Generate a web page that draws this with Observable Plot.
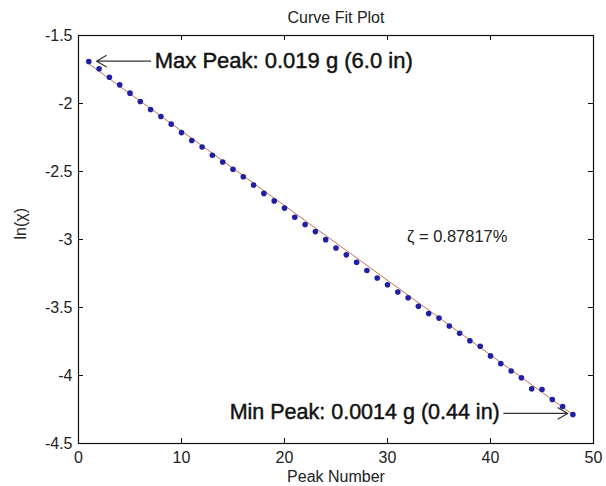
<!DOCTYPE html>
<html><head><meta charset="utf-8">
<script src="https://cdn.jsdelivr.net/npm/d3@7"></script>
<script src="https://cdn.jsdelivr.net/npm/@observablehq/plot@0.6"></script>
<style>
body{margin:0;background:#fff}
svg{font-family:"Liberation Sans",Arial,sans-serif}
</style>
</head><body><div id="chart"></div>
<script>
const peakNumber = [1,2,3,4,5,6,7,8,9,10,11,12,13,14,15,16,17,18,19,20,21,22,23,24,25,26,27,28,29,30,31,32,33,34,35,36,37,38,39,40,41,42,43,44,45,46,47,48];
const lnX = [-1.691,-1.745,-1.807,-1.863,-1.924,-1.985,-2.044,-2.096,-2.152,-2.214,-2.272,-2.320,-2.380,-2.430,-2.484,-2.539,-2.600,-2.661,-2.716,-2.769,-2.836,-2.890,-2.942,-3.001,-3.062,-3.113,-3.167,-3.228,-3.283,-3.333,-3.386,-3.428,-3.491,-3.545,-3.578,-3.636,-3.690,-3.745,-3.785,-3.856,-3.913,-3.967,-4.017,-4.098,-4.103,-4.176,-4.228,-4.287];
const fitX = [1, 48];
const fitY = [-1.708, -4.288];
const xTicks = [0,10,20,30,40,50];
const yTicks = [-1.5,-2,-2.5,-3,-3.5,-4,-4.5];
const maxLabel = {t: "Max Peak: 0.019 g (6.0 in)", x: 7.4, y: -1.689};
const minLabel = {t: "Min Peak: 0.0014 g (0.44 in)", x: 40.9, y: -4.272};
const arrowX1 = [7.0, 41.3];
const arrowX2 = [1.75, 47.5];
const arrowY = [-1.689, -4.279];
const zetaLabel = {t: "ζ = 0.87817%", x: 31.9, y: -2.978};

const points = peakNumber.map((n, i) => ({n, v: lnX[i]}));
const fit = fitX.map((x, i) => ({x, y: fitY[i]}));
const arrows = arrowX1.map((x1, i) => ({x1, x2: arrowX2[i], y: arrowY[i]}));

const W = 606, H = 486, mL = 78, mR = 13, mT = 35, mB = 43;
const pw = W - mL - mR, ph = H - mT - mB, tk = 5;

const chart = Plot.plot({
  width: W, height: H,
  marginLeft: mL, marginRight: mR, marginTop: mT, marginBottom: mB,
  x: {domain: [0, 50]},
  y: {domain: [-4.5, -1.5]},
  style: {fontFamily: '"Liberation Sans", Arial, sans-serif', background: "#fff"},
  marks: [
    Plot.axisX(xTicks, {tickSize: 0, tickPadding: 8, fontSize: 16, tickFormat: d => String(d), label: null, fill: "#222"}),
    Plot.axisY(yTicks, {tickSize: 0, tickPadding: 6, fontSize: 16, tickFormat: d => String(d), label: null, fill: "#222"}),
    Plot.tickX(xTicks, {x: d => d, insetTop: ph - tk, stroke: "#111"}),
    Plot.tickX(xTicks, {x: d => d, insetBottom: ph - tk, stroke: "#111"}),
    Plot.tickY(yTicks, {y: d => d, insetRight: pw - tk, stroke: "#111"}),
    Plot.tickY(yTicks, {y: d => d, insetLeft: pw - tk, stroke: "#111"}),
    Plot.line(fit, {x: "x", y: "y", stroke: "#c4714f", strokeWidth: 1}),
    Plot.dot(points, {x: "n", y: "v", r: 2.8, fill: "#1f1fa6", stroke: "none"}),
    Plot.arrow(arrows, {x1: "x1", y1: "y", x2: "x2", y2: "y", bend: 0, headLength: 14, headAngle: 60, stroke: "#333", strokeWidth: 1.2}),
    Plot.text([maxLabel], {x: "x", y: "y", text: "t", textAnchor: "start", fontSize: 22, fill: "#111", stroke: "#111", strokeWidth: 0.45, lineAnchor: "middle"}),
    Plot.text([minLabel], {x: "x", y: "y", text: "t", textAnchor: "end", fontSize: 21.5, fill: "#111", stroke: "#111", strokeWidth: 0.45, lineAnchor: "middle"}),
    Plot.text([zetaLabel], {x: "x", y: "y", text: "t", textAnchor: "start", fontSize: 16.5, fill: "#222", lineAnchor: "middle"}),
    Plot.text(["Curve Fit Plot"], {frameAnchor: "top", dy: -18, fontSize: 16, fill: "#222", lineAnchor: "middle"}),
    Plot.text(["Peak Number"], {frameAnchor: "bottom", dy: 33, fontSize: 16, fill: "#222", lineAnchor: "middle"}),
    Plot.text(["ln(χ)"], {frameAnchor: "left", dx: -58, rotate: -90, fontSize: 16, fill: "#222", lineAnchor: "middle"}),
    Plot.frame({stroke: "#111", strokeWidth: 1.2})
  ]
});
document.getElementById("chart").appendChild(chart);
</script>
</body></html>
